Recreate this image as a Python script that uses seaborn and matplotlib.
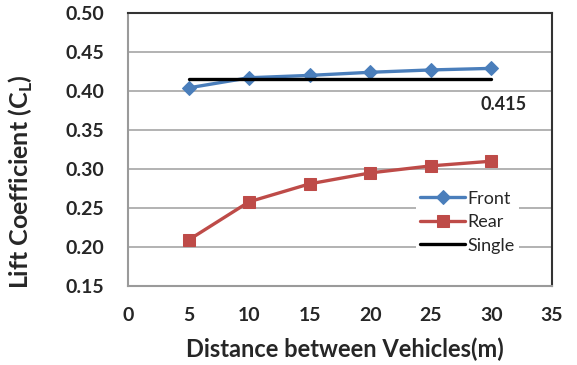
import matplotlib
matplotlib.use("Agg")
import matplotlib.pyplot as plt
import seaborn as sns
import pandas as pd

distance = [5, 10, 15, 20, 25, 30]
front = [0.404, 0.417, 0.420, 0.424, 0.427, 0.429]
rear = [0.209, 0.258, 0.281, 0.295, 0.304, 0.310]
single = [0.415] * 6
single_label = "0.415"
x_ticks = [0, 5, 10, 15, 20, 25, 30, 35]
y_ticks = [0.15, 0.20, 0.25, 0.30, 0.35, 0.40, 0.45, 0.50]

sns.set_theme(style="white")
plt.rcParams['font.family'] = ['Lato', 'DejaVu Sans']

df = pd.DataFrame({
    "Distance": distance * 3,
    "CL": front + rear + single,
    "Series": ["Front"] * 6 + ["Rear"] * 6 + ["Single"] * 6,
})

fig = plt.figure(figsize=(5.77, 3.65), dpi=100)
ax = fig.add_axes([128 / 577, 1 - 286 / 365, (552 - 128) / 577, (286 - 13) / 365])

for y in y_ticks:
    ax.axhline(y, color="#a6a6a6", lw=1.2, zorder=0)

palette = {"Front": "#4a7ebb", "Rear": "#be4b48", "Single": "#000000"}
sns.lineplot(data=df[df.Series == "Front"], x="Distance", y="CL", ax=ax,
             color=palette["Front"], lw=2.4, marker="D", markersize=7,
             markeredgecolor=palette["Front"], label="Front", zorder=3)
sns.lineplot(data=df[df.Series == "Rear"], x="Distance", y="CL", ax=ax,
             color=palette["Rear"], lw=2.4, marker="s", markersize=8.5,
             markeredgecolor=palette["Rear"], label="Rear", zorder=3)
sns.lineplot(data=df[df.Series == "Single"], x="Distance", y="CL", ax=ax,
             color=palette["Single"], lw=2.4, label="Single", zorder=4)

ax.set_xlim(0, 35)
ax.set_ylim(0.15, 0.50)
ax.set_xticks(x_ticks)
ax.set_yticks(y_ticks)
ax.set_yticklabels([f"{v:.2f}" for v in y_ticks])
ax.tick_params(axis="both", length=0, labelsize=14)
ax.tick_params(axis="y", pad=17)
ax.tick_params(axis="x", pad=15)
for lab in ax.get_xticklabels() + ax.get_yticklabels():
    lab.set_fontweight("bold")

ax.set_xlabel("Distance between Vehicles(m)", fontsize=17, fontweight="bold")
ax.set_ylabel("Lift Coefficient (C$_\\mathregular{L}$)", fontsize=18, fontweight="bold")
ax.xaxis.set_label_coords(0.512, -0.19)
ax.yaxis.set_label_coords(-0.219, 0.383)

for side in ["top", "right"]:
    ax.spines[side].set_color("#333333")
    ax.spines[side].set_linewidth(1.5)
for side in ["left", "bottom"]:
    ax.spines[side].set_color("#9a9a9a")
    ax.spines[side].set_linewidth(1.5)

ax.text(29.1, 0.383, single_label, fontsize=13, fontweight="bold", va="center", ha="left",
        bbox=dict(facecolor="white", edgecolor="none", pad=1), zorder=2)

leg = ax.legend(loc="center left", bbox_to_anchor=(0.68, 0.234), frameon=True, fontsize=13,
                handlelength=2.5, handletextpad=0.15, labelspacing=0.42, borderpad=0.2,
                borderaxespad=0)
leg.get_frame().set_facecolor("white")
leg.get_frame().set_edgecolor("none")
leg.get_frame().set_alpha(1)

fig.savefig("out.png", dpi=100)
